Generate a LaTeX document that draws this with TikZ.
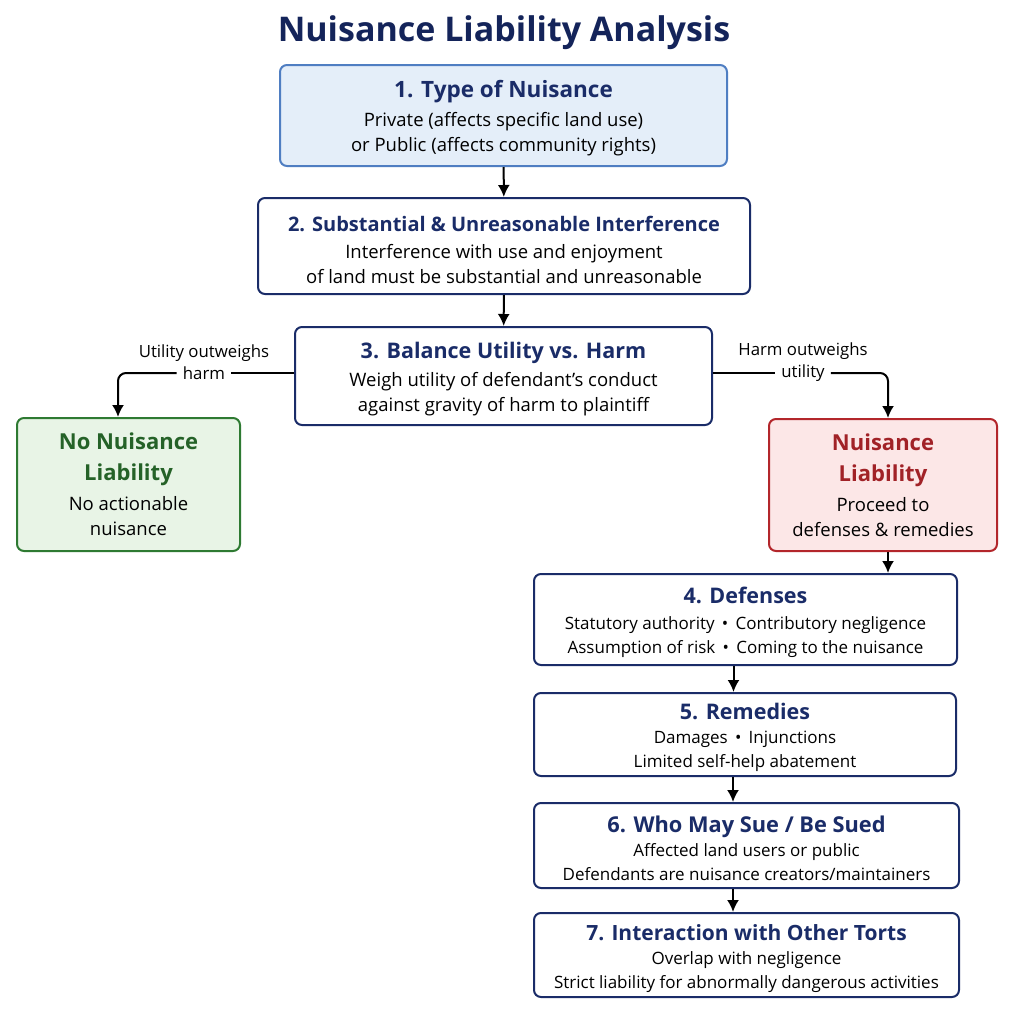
\documentclass[tikz,border=0pt]{standalone}
\usepackage{fontspec}
\setmainfont{Open Sans}
\usepackage{tikz}
\usetikzlibrary{positioning,arrows.meta}

\definecolor{navy}{HTML}{1A2C68}
\definecolor{titlenavy}{HTML}{14245A}
\definecolor{stepblue}{HTML}{4F7EC2}
\definecolor{stepfill}{HTML}{E4EEF9}
\definecolor{okgreen}{HTML}{2E7A32}
\definecolor{okfill}{HTML}{E8F4E6}
\definecolor{badred}{HTML}{B3262B}
\definecolor{badfill}{HTML}{FCE7E7}

\newcommand{\hd}[2][21.5]{{\fontsize{#1}{26}\selectfont\bfseries\color{navy}\rule{0pt}{23pt}#2}}
\newcommand{\okhd}[1]{{\fontsize{22}{31}\selectfont\bfseries\color{okgreen!80!black}#1}}
\newcommand{\badhd}[1]{{\fontsize{22}{31}\selectfont\bfseries\color{badred!90!black}#1}}

\tikzset{
  stepbox/.style={draw=navy, line width=2pt, rounded corners=7pt, fill=white,
    align=center, inner sep=0pt, font=\fontsize{17}{24}\selectfont},
  bigtext/.style={font=\fontsize{18.5}{25}\selectfont},
  arr/.style={-{Latex[length=12pt,width=12pt]}, line width=2pt, black},
  lbl/.style={font=\fontsize{16.8}{19}\selectfont, inner ysep=1pt, inner xsep=6pt, fill=white}
}

\begin{document}
\begin{tikzpicture}[x=1pt, y=-1pt]
            \useasboundingbox[fill=white] (0,0) rectangle (1015,1015);
            \node[font=\fontsize{34}{40}\selectfont\bfseries, text=titlenavy] (title) at (504,33) {Nuisance Liability Analysis};

            \node[stepbox, bigtext, draw=stepblue, fill=stepfill, minimum width=447pt, minimum height=101pt] (type) at (503.5,115.5)
                {\hd[22.5]{1. Type of Nuisance}\\[4pt] Private (affects specific land use)\\or Public (affects community rights)};
            \node[stepbox, bigtext, minimum width=492pt, minimum height=96pt] (interf) at (504,246)
                {\hd[20]{2. Substantial \& Unreasonable Interference}\\[2pt] Interference with use and enjoyment\\of land must be substantial and unreasonable};
            \node[stepbox, bigtext, minimum width=417pt, minimum height=98pt] (balance) at (503.5,376)
                {\hd{3. Balance Utility vs. Harm}\\[3pt] Weigh utility of defendant's conduct\\against gravity of harm to plaintiff};

            \node[stepbox, bigtext, draw=okgreen, fill=okfill, minimum width=223pt, minimum height=133pt] (noliab) at (128.5,484.5)
                {\okhd{No Nuisance}\\[6pt]\okhd{Liability}\\[5pt] No actionable\\nuisance};
            \node[stepbox, bigtext, draw=badred, fill=badfill, minimum width=228pt, minimum height=132pt] (liab) at (883,485)
                {\badhd{Nuisance}\\[6pt]\badhd{Liability}\\[5pt] Proceed to\\defenses \& remedies};

            \node[stepbox, minimum width=423pt, minimum height=91pt] (def) at (745.5,619.5)
                {\hd{4. Defenses}\\[2pt] Statutory authority \,\textbullet\, Contributory negligence\\Assumption of risk \,\textbullet\, Coming to the nuisance};
            \node[stepbox, minimum width=422pt, minimum height=83pt] (rem) at (745,734.5)
                {\hd{5. Remedies}\\[0pt] Damages \,\textbullet\, Injunctions\\Limited self-help abatement};
            \node[stepbox, minimum width=425pt, minimum height=85pt] (who) at (746.5,845.5)
                {\hd[21.8]{6. Who May Sue / Be Sued}\\[0pt] Affected land users or public\\Defendants are nuisance creators/maintainers};
            \node[stepbox, minimum width=425pt, minimum height=84pt] (other) at (746.5,955)
                {\hd[21]{7. Interaction with Other Torts}\\[0pt] Overlap with negligence\\Strict liability for abnormally dangerous activities};

            % branch labels
            \node[lbl] (harmL) at (204,373) {harm};
            \node[lbl, above=3pt of harmL] (utilL) {Utility outweighs};
            \node[lbl] (utilR) at (803,373) {utility};
            \node[lbl, above=3pt of utilR] (harmR) {Harm outweighs};

            \draw[arr] (type) -- (interf);
            \draw[arr] (interf) -- (balance);
            \draw[line width=2pt] (balance.west |- harmL) -- (harmL);
            \draw[arr, rounded corners=8pt] (harmL.west) -| ([xshift=-10.5pt]noliab.north);
            \draw[line width=2pt] (balance.east |- utilR) -- (utilR);
            \draw[arr, rounded corners=8pt] (utilR.east) -| ([xshift=5pt]liab.north);
            \draw[arr] ([xshift=5pt]liab.south) -- ([xshift=5pt]liab.south |- def.north);
            \draw[arr] ([xshift=-12pt]def.south) -- ([xshift=-12pt]def.south |- rem.north);
            \draw[arr] ([xshift=-12pt]rem.south) -- ([xshift=-12pt]rem.south |- who.north);
            \draw[arr] ([xshift=-13.5pt]who.south) -- ([xshift=-13.5pt]who.south |- other.north);
        \end{tikzpicture}
\end{document}
